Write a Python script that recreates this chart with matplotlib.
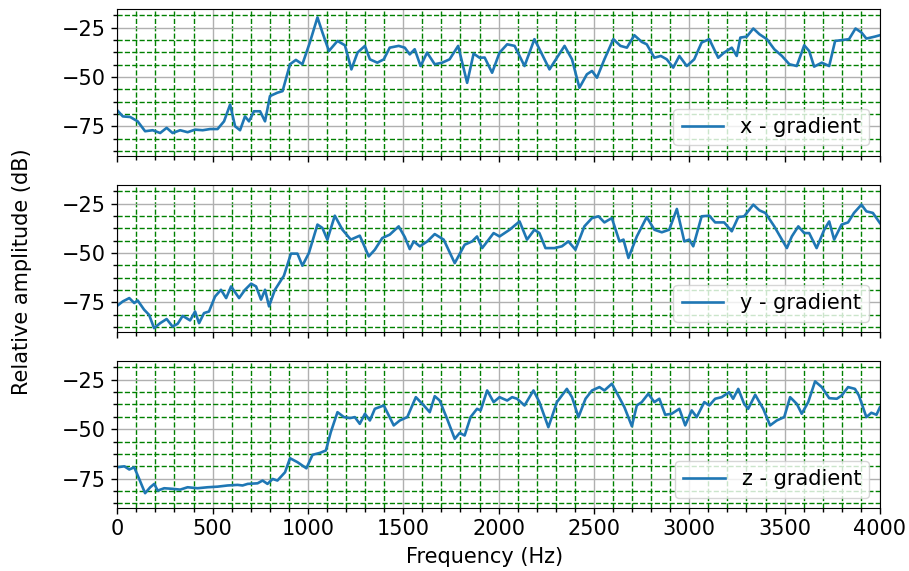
import numpy as np
import matplotlib
matplotlib.use('Agg')
import matplotlib.pyplot as plt
from matplotlib.ticker import MultipleLocator

plt.rcParams['font.size'] = 15

# valores: frequencia (Hz) e amplitude (dB)
freq_x = [0, 29, 68, 107, 146, 186, 225, 259, 290, 330, 369, 408, 448, 487, 526, 560,
          592, 618, 644, 670, 691, 717, 749, 775, 801, 840, 867, 906, 937, 971, 1010,
          1050, 1076, 1110, 1155, 1194, 1228, 1260, 1299, 1325, 1364, 1398, 1429, 1476,
          1508, 1534, 1560, 1591, 1625, 1665, 1704, 1743, 1788, 1835, 1869, 1900, 1927,
          1966, 2005, 2045, 2084, 2136, 2188, 2228, 2267, 2306, 2346, 2385, 2424, 2463,
          2490, 2516, 2555, 2602, 2639, 2673, 2712, 2751, 2777, 2817, 2851, 2882, 2916,
          2948, 2987, 3026, 3065, 3105, 3152, 3183, 3223, 3249, 3268, 3302, 3336, 3368,
          3407, 3446, 3486, 3525, 3564, 3603, 3629, 3655, 3695, 3734, 3765, 3807, 3838,
          3872, 3903, 3929, 3974, 4000]
amp_x = [-66.9, -70.0, -70.3, -72.5, -77.5, -77.0, -78.4, -75.8, -78.4, -77.0, -78.0,
         -76.7, -77.0, -76.4, -76.4, -72.5, -64.0, -75.0, -77.0, -70.0, -72.5, -67.4,
         -67.4, -72.5, -59.7, -58.0, -57.2, -43.6, -41.4, -43.6, -32.6, -19.9, -27.5,
         -36.9, -31.8, -34.0, -46.2, -37.7, -34.3, -41.1, -42.8, -41.1, -35.2, -34.3,
         -35.2, -38.6, -36.0, -44.5, -37.7, -43.6, -42.8, -41.1, -34.3, -53.0, -38.2,
         -40.3, -40.2, -47.9, -37.7, -33.5, -34.3, -44.5, -30.9, -38.6, -46.2, -40.3,
         -34.3, -41.1, -55.5, -48.7, -47.0, -50.4, -41.1, -30.9, -34.3, -35.2, -28.9,
         -32.3, -33.5, -40.3, -39.4, -41.1, -45.3, -39.4, -44.5, -41.1, -32.6, -30.9,
         -40.3, -37.7, -35.2, -39.4, -30.1, -29.6, -25.5, -28.4, -30.9, -36.0, -39.4,
         -43.6, -44.5, -34.0, -36.9, -44.8, -42.8, -44.5, -31.8, -31.3, -30.9, -25.5,
         -27.5, -30.6, -29.6, -28.9]

freq_y = [0, 29, 63, 89, 107, 141, 167, 193, 225, 259, 290, 317, 343, 382, 408, 429,
          455, 481, 513, 544, 571, 597, 639, 670, 702, 728, 754, 775, 796, 827, 874,
          911, 945, 971, 1005, 1050, 1076, 1102, 1141, 1181, 1225, 1272, 1319, 1351,
          1390, 1429, 1476, 1508, 1534, 1555, 1587, 1626, 1665, 1712, 1770, 1822, 1861,
          1887, 1914, 1974, 2005, 2058, 2110, 2149, 2188, 2214, 2246, 2293, 2332, 2366,
          2403, 2450, 2490, 2524, 2555, 2594, 2634, 2655, 2681, 2725, 2777, 2817, 2856,
          2895, 2935, 2974, 3000, 3021, 3065, 3105, 3136, 3183, 3223, 3257, 3288, 3336,
          3368, 3399, 3446, 3486, 3512, 3538, 3572, 3603, 3629, 3668, 3708, 3734, 3760,
          3799, 3833, 3864, 3903, 3929, 3963, 4000]
amp_y = [-76.7, -74.5, -72.8, -75.3, -74.0, -78.7, -81.3, -88.0, -85.5, -83.4, -87.2,
         -85.8, -81.8, -84.1, -79.6, -85.5, -80.4, -79.6, -72.0, -68.6, -72.8, -66.9,
         -72.8, -68.6, -65.5, -66.9, -73.6, -68.6, -77.0, -68.6, -61.5, -50.3, -50.3,
         -56.4, -50.0, -35.6, -37.3, -43.2, -31.1, -38.2, -43.2, -41.2, -51.7, -48.3,
         -42.4, -40.7, -36.5, -41.9, -48.0, -44.1, -46.6, -44.1, -40.4, -43.2, -55.1,
         -45.8, -44.1, -41.6, -47.5, -39.9, -41.6, -38.2, -34.0, -43.2, -38.2, -39.9,
         -47.5, -47.5, -46.6, -44.1, -48.3, -36.5, -32.3, -31.4, -34.5, -32.3, -44.1,
         -43.2, -52.5, -41.6, -31.8, -38.2, -39.5, -38.2, -27.7, -44.1, -43.2, -46.6,
         -31.4, -31.1, -34.5, -34.5, -39.0, -31.8, -31.4, -25.5, -28.4, -29.7, -36.5,
         -43.2, -47.5, -41.6, -36.5, -39.9, -39.9, -47.5, -38.2, -34.0, -43.2, -35.6,
         -34.5, -29.7, -25.5, -28.9, -29.7, -34.8]

freq_z = [0, 37, 63, 89, 115, 146, 173, 194, 212, 246, 290, 330, 369, 421, 474, 526,
          579, 631, 657, 684, 736, 762, 788, 815, 840, 880, 906, 945, 992, 1024, 1063,
          1094, 1120, 1155, 1189, 1220, 1246, 1272, 1299, 1325, 1351, 1398, 1450, 1482,
          1521, 1566, 1608, 1639, 1665, 1691, 1730, 1770, 1796, 1822, 1853, 1887, 1906,
          1940, 1974, 2005, 2045, 2071, 2097, 2136, 2183, 2214, 2261, 2306, 2358, 2385,
          2419, 2456, 2490, 2529, 2555, 2594, 2620, 2660, 2699, 2725, 2751, 2785, 2817,
          2843, 2874, 2908, 2948, 2979, 3013, 3039, 3079, 3105, 3136, 3170, 3209, 3230,
          3257, 3288, 3309, 3346, 3388, 3424, 3459, 3498, 3529, 3564, 3590, 3624, 3660,
          3695, 3734, 3774, 3799, 3833, 3869, 3890, 3929, 3955, 3982, 4000]
amp_z = [-69.3, -68.8, -70.4, -69.3, -75.2, -82.4, -79.4, -77.7, -81.1, -79.9, -80.2,
         -80.6, -79.4, -79.9, -79.4, -79.1, -78.5, -78.2, -78.5, -77.7, -77.4, -76.0,
         -77.7, -75.2, -76.0, -71.8, -64.7, -66.7, -69.8, -63.0, -62.0, -60.8, -51.5,
         -41.4, -43.9, -44.4, -43.9, -47.3, -42.2, -45.6, -39.7, -38.0, -48.1, -45.6,
         -43.9, -33.8, -38.0, -41.4, -33.3, -35.5, -44.8, -54.9, -51.9, -53.2, -43.9,
         -39.7, -40.5, -30.4, -36.3, -33.8, -35.5, -33.8, -34.6, -38.0, -30.4, -36.3,
         -49.0, -36.3, -29.6, -33.8, -43.9, -34.6, -30.4, -28.7, -30.4, -27.0, -31.6,
         -38.9, -48.5, -38.0, -36.3, -32.1, -36.3, -34.6, -42.7, -42.2, -39.7, -48.1,
         -40.5, -43.9, -36.3, -38.0, -34.6, -33.8, -31.3, -34.6, -29.6, -37.2, -39.7,
         -32.6, -39.7, -48.1, -45.6, -43.9, -33.8, -37.2, -42.2, -36.3, -25.8, -28.7,
         -34.3, -34.6, -33.0, -28.7, -29.6, -33.0, -43.9, -41.7, -42.7, -38.9]

labels = ['x - gradient', 'y - gradient', 'z - gradient']

fig, axs = plt.subplots(3, 1, sharex=True, figsize=(9.09, 5.71), dpi=100)
fig.subplots_adjust(left=0.129, right=0.968, top=0.984, bottom=0.11, hspace=0.2)

for ax, f, a, lab in zip(axs, [freq_x, freq_y, freq_z], [amp_x, amp_y, amp_z], labels):
    ax.plot(f, a, color='#1f77b4', lw=1.9, label=lab)
    ax.set_xlim(0, 4000)
    ax.set_ylim(-90, -15.7)
    ax.xaxis.set_major_locator(MultipleLocator(500))
    ax.yaxis.set_major_locator(MultipleLocator(25))
    ax.xaxis.set_minor_locator(MultipleLocator(100))
    ax.yaxis.set_minor_locator(MultipleLocator(6.25))
    ax.grid(which='major', color='#b0b0b0', lw=1.0)
    ax.grid(which='minor', color='g', linestyle='--', lw=1.0)
    ax.tick_params(which='major', length=4.5, width=1)
    ax.tick_params(which='minor', length=3, width=1)
    ax.legend(loc='lower right')

fig.text(0.533, 0.025, 'Frequency (Hz)', ha='center', va='center')
fig.text(0.024, 0.524, 'Relative amplitude (dB)', ha='center', va='center',
         rotation='vertical')

plt.savefig('out.png', dpi=100)
